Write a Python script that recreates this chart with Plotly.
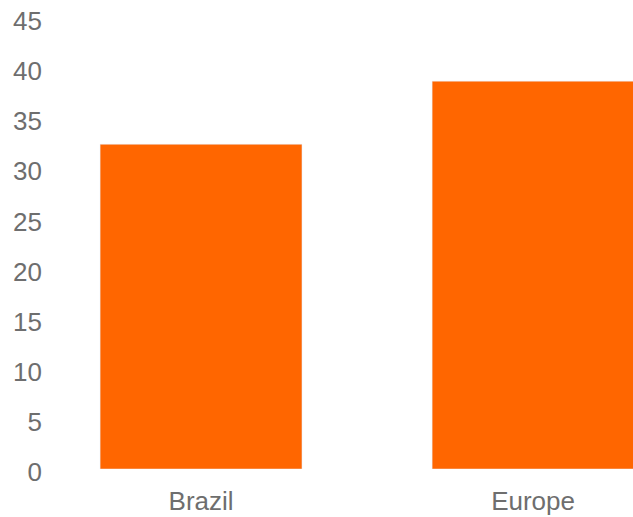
import plotly.graph_objects as go

categories = ["Brazil", "Europe"]
values = [32.4, 38.7]
y_ticks = [0, 5, 10, 15, 20, 25, 30, 35, 40, 45]

fig = go.Figure(go.Bar(x=categories, y=values, marker_color="#FF6600", width=0.608))
fig.update_layout(
    width=633, height=517,
    margin=dict(l=45, r=0, t=18, b=48),
    paper_bgcolor="white", plot_bgcolor="white",
    font=dict(family="Liberation Sans, Arial", size=26, color="#6e6e6e"),
    showlegend=False,
    xaxis=dict(range=[-0.47, 1.301], showgrid=False, showline=False, zeroline=False, ticks="",
               ticklabelstandoff=14),
    yaxis=dict(range=[0, 45], tickvals=y_ticks, showgrid=False, showline=False, zeroline=False, ticks="",
               ticklabelshift=3, ticklabelstandoff=2),
)
fig.write_html("out.html")
